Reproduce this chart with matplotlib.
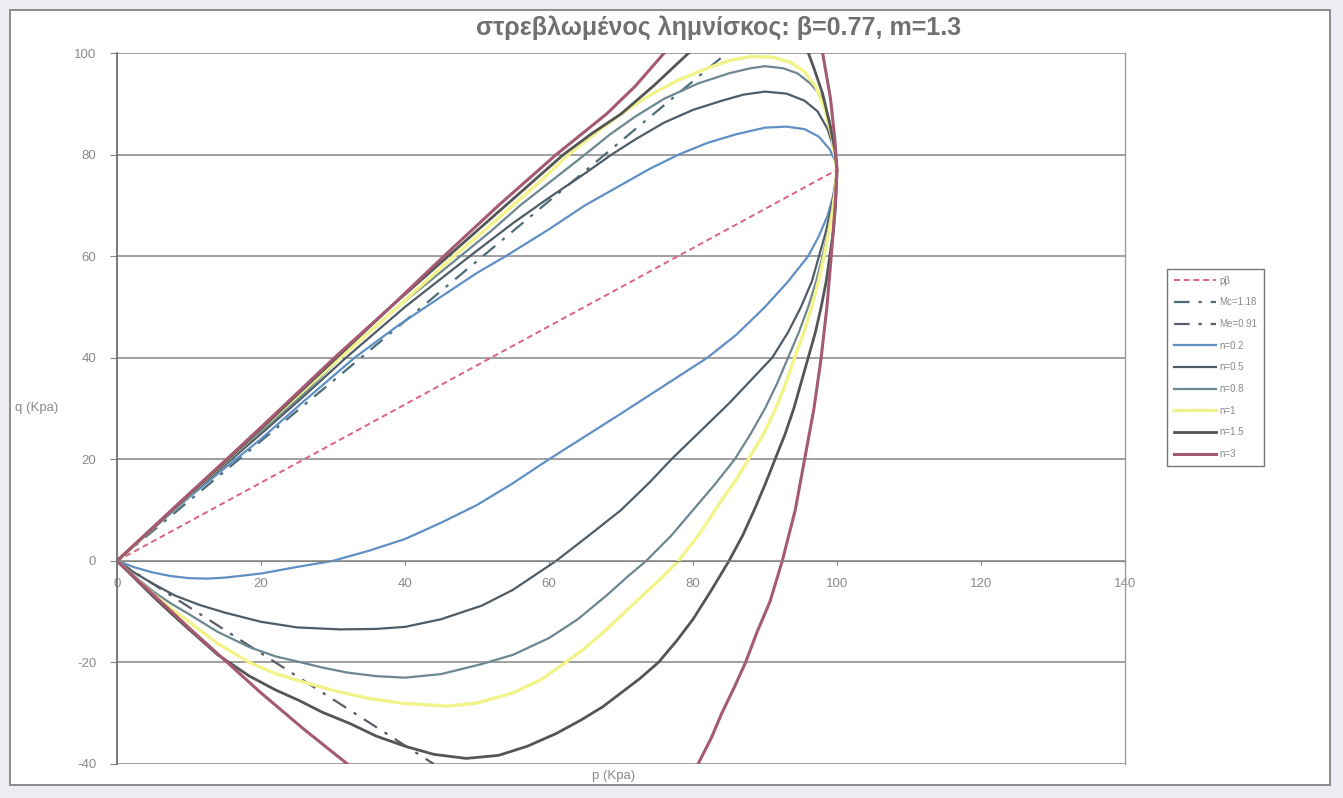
import matplotlib
matplotlib.use("Agg")
import matplotlib.pyplot as plt
from matplotlib.patches import Rectangle

plt.rcParams['font.family'] = ['Liberation Sans', 'DejaVu Sans']
plt.rcParams['axes.unicode_minus'] = False

# straight reference lines (p, q)
pb_p = [0, 100]
pb_q = [0, 77]
mc_p = [0, 84.7]
mc_q = [0, 100]
me_p = [0, 44]
me_q = [0, -40]

# distorted lemniscate curves: upper branch then lower branch, both from p=0 to p=100
n02_up_p = [0, 5, 10, 15, 20, 26, 33, 39, 45, 50, 54, 60, 65, 70, 74, 78, 82, 86, 90, 93, 95.5, 97.5, 99, 99.8, 100]
n02_up_q = [0, 6.3, 12.5, 18.3, 24, 31.5, 40, 46.3, 52, 56.7, 60, 65.3, 70, 74, 77.2, 80, 82.3, 84, 85.3, 85.5, 85, 83.5, 81, 78.5, 77]
n02_lo_p = [0, 2.5, 5, 7.5, 10, 12.5, 15, 20, 25, 30, 35, 40, 45, 50, 55, 60, 65, 70, 76, 82, 86, 90, 93.2, 96, 97.5, 98.7, 99.5, 100]
n02_lo_q = [0, -1.3, -2.3, -3, -3.4, -3.5, -3.3, -2.5, -1.2, 0, 2, 4.3, 7.5, 11, 15.3, 20, 24.5, 29, 34.5, 40, 44.5, 50, 55, 60, 64, 68, 72, 77]

n05_up_p = [0, 5, 10, 15, 20, 26, 31.8, 40, 49, 55, 60, 65, 68.7, 72, 76, 80, 84, 87, 90, 93, 95.5, 97.3, 98.7, 99.6, 100]
n05_up_q = [0, 6.4, 12.8, 18.9, 25, 32.5, 40, 50, 60, 66.5, 71.5, 76.3, 80, 83, 86.3, 88.8, 90.6, 91.8, 92.4, 92, 90.6, 88.5, 85, 81, 77]
n05_lo_p = [0, 2.5, 5, 8, 11.5, 15, 20, 25, 31, 36, 40, 45, 50.7, 55, 61, 66, 70, 74, 77, 81, 85, 88, 91, 93.2, 95, 96.5, 97.5, 98.4, 99.2, 99.7, 100]
n05_lo_q = [0, -2.4, -4.5, -6.8, -8.7, -10.2, -12, -13.1, -13.5, -13.4, -13, -11.5, -8.8, -5.7, 0, 5.5, 10, 15.5, 20, 25.5, 31, 35.5, 40, 45, 50, 55, 60, 64.5, 69.5, 73.5, 77]

n08_up_p = [0, 5, 10, 15, 20, 26, 31, 39, 47.7, 52, 56, 60.5, 65, 68.5, 72, 76, 80.7, 85, 88, 90, 92.5, 94.5, 96.3, 97.8, 98.9, 99.6, 100]
n08_up_q = [0, 6.5, 13, 19.3, 25.5, 33, 40, 50, 60, 65, 70, 75, 80, 84, 87.5, 91, 94, 96, 97, 97.4, 97, 96, 94, 91.5, 87, 82, 77]
n08_lo_p = [0, 2.5, 5, 7.5, 10, 14, 18.4, 22, 25, 28.5, 32, 36, 40, 45, 50.7, 55, 60, 64, 68, 71, 73.5, 77, 80, 83, 85.8, 88, 90, 91.7, 93.2, 94.7, 96, 97.1, 98, 98.8, 99.4, 99.8, 100]
n08_lo_q = [0, -3.1, -6, -8.4, -10.5, -14, -17, -18.8, -19.8, -21, -22, -22.7, -23, -22.3, -20.3, -18.5, -15.2, -11.5, -6.8, -3, 0, 5, 10, 15, 20, 25, 30, 35, 40, 45, 50, 55, 60, 65, 70, 74, 77]

n1_up_p = [0, 5, 10, 15, 20, 25.5, 31, 39, 46.8, 51, 55, 59, 62.7, 66.5, 70, 74, 78, 82, 85, 88, 91, 93.5, 95.5, 97, 98.3, 99.3, 100]
n1_up_q = [0, 6.5, 13, 19.5, 26, 33, 40, 50, 60, 65, 70, 75, 80, 84.3, 88, 91.7, 94.7, 97, 98.5, 99.3, 99.2, 98.2, 96.3, 93.5, 89, 83.5, 77]
n1_lo_p = [0, 2.5, 5, 7.5, 10, 14, 18.4, 22, 25, 30, 35, 40, 46, 50, 55, 59, 62.3, 65, 68, 71.5, 75, 78, 81, 84, 86, 87.7, 89.8, 91.5, 92.9, 94.1, 95.4, 96.5, 97.4, 98.2, 98.9, 99.4, 99.8, 100]
n1_lo_q = [0, -3.3, -6.5, -9.4, -12, -16.3, -20, -22.2, -23.5, -25.5, -27.1, -28.1, -28.6, -28, -26, -23.3, -20, -17.2, -13.5, -8.8, -4.2, 0, 5.5, 12, 16, 20, 25, 30, 35, 40, 45, 50, 55, 60, 65, 69, 73.5, 77]

n15_up_p = [0, 5, 10, 15, 20, 25, 30.5, 38, 46, 50, 54, 58, 62, 66, 70, 74.5, 79.4, 84, 88, 91, 93.5, 95.5, 96.8, 98, 99, 99.7, 100]
n15_up_q = [0, 6.5, 13, 19.5, 26, 32.7, 40, 50, 60, 65, 70, 75, 80, 84.2, 88, 93.5, 100, 104.5, 107, 107.5, 106, 102, 97, 92, 86, 81, 77]
n15_lo_p = [0, 2.5, 5, 7.5, 10, 14, 18.4, 22, 25.3, 28.5, 32.3, 36, 40, 44, 48.5, 53, 57, 61, 64.5, 67.5, 70, 72.6, 75.2, 77.7, 80, 82.5, 85, 86.9, 88.5, 90, 91.4, 92.8, 94, 95, 96, 97, 97.8, 98.5, 99, 99.5, 99.8, 100]
n15_lo_q = [0, -3.5, -7, -10.3, -13.5, -18.5, -22.7, -25.4, -27.5, -29.8, -32, -34.5, -36.5, -38.1, -38.9, -38.3, -36.5, -34, -31.3, -28.7, -26, -23.2, -20, -15.8, -11.5, -5.9, 0, 5, 10, 15, 20, 25, 30, 35, 40, 45, 50, 55, 60, 65, 70, 77]

n3_up_p = [0, 5, 10, 15, 20, 25, 30.2, 38, 45.4, 53, 61, 64.5, 68, 72, 76, 80, 85, 90, 94, 96.5, 98, 99.1, 99.7, 100]
n3_up_q = [0, 6.6, 13.2, 19.7, 26.3, 33, 40, 50, 60, 70, 80, 84, 88, 93.5, 100, 105.5, 111, 114, 113, 108, 100, 91, 83, 77]
n3_lo_p = [0, 5, 10, 15, 20, 26, 32, 36, 79, 80.7, 82.5, 84, 85.7, 87.3, 88.9, 90.7, 92.4, 94.2, 95.5, 96.8, 97.8, 98.6, 99.2, 99.7, 100]
n3_lo_q = [0, -6.6, -13.2, -19.6, -26, -33.2, -40, -45, -45, -40, -35, -30, -25, -20, -14, -8, 0, 10, 20, 30, 40, 50, 60, 69, 77]

curves = [
    ("n=0.2", n02_up_p, n02_up_q, n02_lo_p, n02_lo_q, "#5f8fc4", 1.6),
    ("n=0.5", n05_up_p, n05_up_q, n05_lo_p, n05_lo_q, "#4f5c66", 1.6),
    ("n=0.8", n08_up_p, n08_up_q, n08_lo_p, n08_lo_q, "#6d8790", 1.6),
    ("n=1", n1_up_p, n1_up_q, n1_lo_p, n1_lo_q, "#f3f38c", 2.4),
    ("n=1.5", n15_up_p, n15_up_q, n15_lo_p, n15_lo_q, "#555555", 2.0),
    ("n=3", n3_up_p, n3_up_q, n3_lo_p, n3_lo_q, "#a35a72", 2.2),
]

fig = plt.figure(figsize=(13.43, 7.98), dpi=100)
fig.patch.set_facecolor("#ececf3")
fig.add_artist(Rectangle((10 / 1343, 1 - 785 / 798), 1320 / 1343, 775 / 798,
                         transform=fig.transFigure, facecolor="white",
                         edgecolor="#8c8c8c", lw=1.4, zorder=-1))

ax = fig.add_axes([117 / 1343, 1 - 764 / 798, 1008 / 1343, 711 / 798])
ax.set_facecolor("white")

ax.plot(pb_p, pb_q, color="#dd6282", lw=1.4, dashes=(3, 2), label="p\u03b2")
ax.plot(mc_p, mc_q, color="#4d6c78", lw=1.6, dashes=(7, 4, 1.5, 4), label="Mc=1.18")
ax.plot(me_p, me_q, color="#5a5e66", lw=1.6, dashes=(7, 4, 1.5, 4), label="Me=0.91")

for name, up_p, up_q, lo_p, lo_q, col, lw in curves:
    xs = list(up_p) + list(lo_p[::-1])
    ys = list(up_q) + list(lo_q[::-1])
    ax.plot(xs, ys, color=col, lw=lw, label=name, solid_joinstyle="round")

ax.set_xlim(0, 140)
ax.set_ylim(-40, 100)
ax.set_xticks(range(0, 141, 20))
ax.set_yticks(range(-40, 101, 20))
ax.yaxis.grid(True, color="#858585", lw=1.1)
ax.set_axisbelow(True)

ax.spines["bottom"].set_position(("data", 0))
ax.spines["bottom"].set_color("#858585")
ax.spines["top"].set_visible(False)
ax.spines["left"].set_color("#6e6e6e")
ax.spines["left"].set_linewidth(1.3)
ax.spines["right"].set_color("#9a9a9a")
ax.spines["right"].set_linewidth(1.0)

ax.tick_params(axis="x", colors="#858585", labelcolor="#8a8a8a", labelsize=9.5,
               length=3, pad=9)
ax.tick_params(axis="y", colors="#858585", labelcolor="#8a8a8a", labelsize=9.5,
               length=5, pad=10)

ax.text(0.493, -0.008, "p (Kpa)", transform=ax.transAxes, ha="center", va="top",
        fontsize=9.5, color="#8a8a8a")
fig.text(15 / 1343, 1 - 408 / 798, "q (Kpa)", ha="left", va="center",
         fontsize=9.5, color="#8a8a8a")

fig.text(719 / 1343, 1 - 28 / 798, "\u03c3\u03c4\u03c1\u03b5\u03b2\u03bb\u03c9\u03bc\u03ad\u03bd\u03bf\u03c2 "
         "\u03bb\u03b7\u03bc\u03bd\u03af\u03c3\u03ba\u03bf\u03c2: \u03b2=0.77, m=1.3",
         ha="center", va="center", fontsize=18, fontweight="bold", color="#707070")

leg = ax.legend(loc="upper left", bbox_to_anchor=(1167 / 1343, 1 - 269 / 798),
                bbox_transform=fig.transFigure, borderaxespad=0, fontsize=7,
                frameon=True, fancybox=False, edgecolor="#555555",
                handlelength=4.3, labelspacing=1.2, borderpad=0.7,
                handletextpad=0.4)
leg.get_frame().set_linewidth(1.0)
for t in leg.get_texts():
    t.set_color("#8a8a8a")

fig.savefig("out.png", dpi=100, facecolor=fig.get_facecolor())
